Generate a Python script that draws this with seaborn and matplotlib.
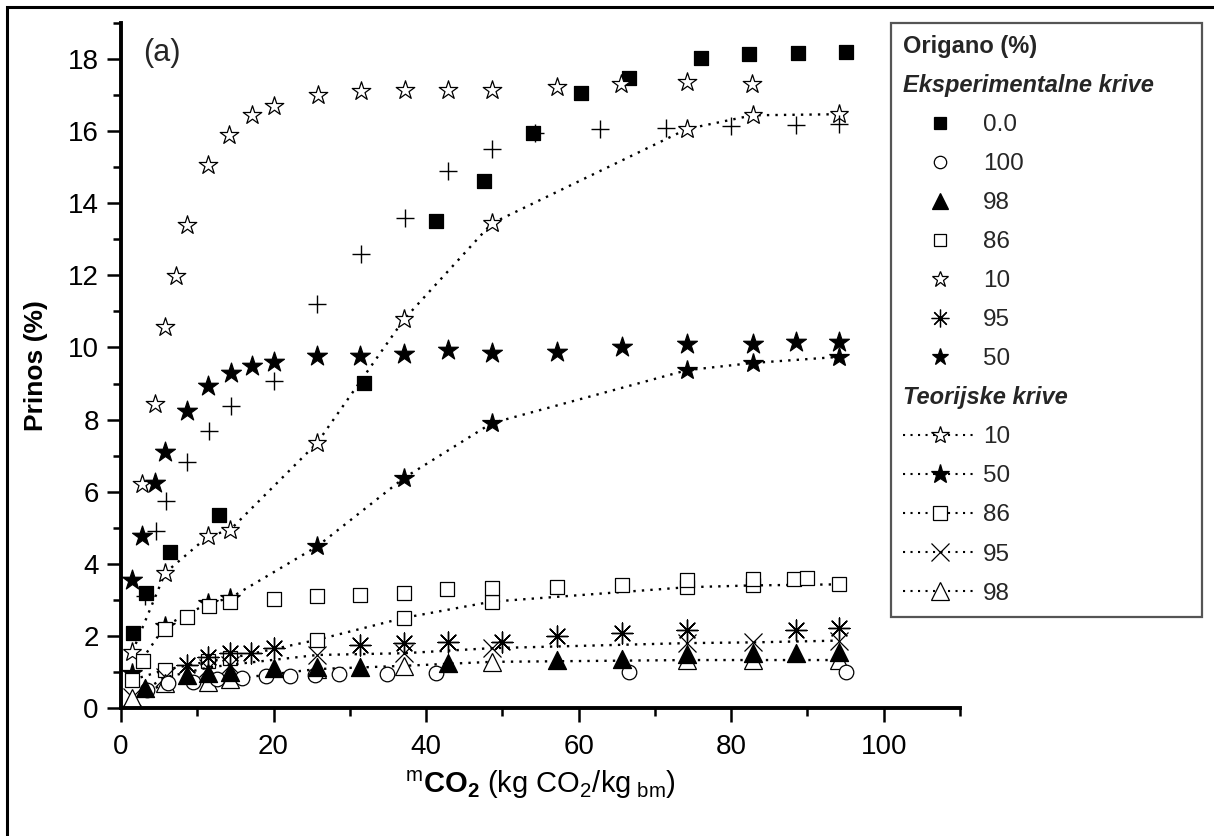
import matplotlib
matplotlib.use("Agg")
import numpy as np
import pandas as pd
import seaborn as sns
import matplotlib.pyplot as plt
from matplotlib.lines import Line2D
from matplotlib.patches import Rectangle
from matplotlib.ticker import MultipleLocator

# ---------------- data ----------------
exp00_x = [1.6, 3.3, 6.4, 12.8, 31.8, 41.3, 47.6, 54.0, 60.3, 66.6, 76.1, 82.4, 88.8, 95.1]
exp00_y = [2.07, 3.2, 4.34, 5.34, 9.02, 13.5, 14.63, 15.96, 17.07, 17.48, 18.02, 18.14, 18.17, 18.2]

exp100_x = [3.4, 6.2, 9.5, 12.6, 15.8, 19.0, 22.2, 25.4, 28.6, 34.9, 41.3, 66.6, 95.1]
exp100_y = [0.5, 0.68, 0.73, 0.8, 0.84, 0.88, 0.9, 0.92, 0.94, 0.94, 0.97, 0.99, 0.99]

exp98_x = [3.1, 8.6, 11.4, 14.3, 20.0, 25.7, 31.4, 42.9, 57.1, 65.7, 74.2, 82.8, 88.5, 94.2]
exp98_y = [0.55, 0.92, 0.97, 1.0, 1.1, 1.13, 1.15, 1.26, 1.32, 1.35, 1.5, 1.53, 1.53, 1.54]

exp86_x = [2.9, 5.8, 8.6, 11.5, 14.3, 20.0, 25.7, 31.4, 37.1, 42.8, 48.6, 57.1, 65.7, 74.2, 82.8, 88.3, 89.9]
exp86_y = [1.31, 2.19, 2.52, 2.83, 2.95, 3.03, 3.12, 3.14, 3.18, 3.31, 3.32, 3.37, 3.40, 3.56, 3.58, 3.58, 3.60]

exp10_x = [2.8, 4.4, 5.8, 7.2, 8.6, 11.4, 14.2, 17.2, 20.0, 25.8, 31.5, 37.2, 42.9, 48.6, 57.1, 65.6, 74.2, 82.7]
exp10_y = [6.2, 8.42, 10.56, 11.98, 13.4, 15.06, 15.89, 16.45, 16.7, 17.0, 17.1, 17.15, 17.15, 17.15, 17.23, 17.3, 17.37, 17.3]

exp95_x = [8.6, 11.4, 14.3, 17.1, 20.0, 31.4, 37.1, 42.9, 49.9, 57.1, 65.7, 74.2, 88.5, 94.2]
exp95_y = [1.2, 1.42, 1.53, 1.52, 1.66, 1.75, 1.8, 1.84, 1.84, 2.0, 2.09, 2.17, 2.17, 2.21]

exp50_x = [1.5, 2.8, 4.4, 5.8, 8.6, 11.4, 14.4, 17.2, 20.0, 25.7, 31.4, 37.1, 42.9, 48.6, 57.1, 65.7, 74.2, 82.8, 88.5, 94.2]
exp50_y = [3.56, 4.78, 6.24, 7.09, 8.25, 8.93, 9.28, 9.48, 9.6, 9.76, 9.76, 9.81, 9.92, 9.85, 9.87, 10.0, 10.1, 10.1, 10.15, 10.16]

plus_x = [3.2, 4.6, 5.9, 8.7, 11.5, 14.4, 20.0, 25.7, 31.5, 37.2, 42.9, 48.6, 54.3, 62.8, 71.4, 80.0, 88.5, 94.2]
plus_y = [3.1, 4.9, 5.73, 6.81, 7.67, 8.37, 9.08, 11.2, 12.6, 13.6, 14.9, 15.5, 15.96, 16.07, 16.1, 16.15, 16.17, 16.2]

theo_x = [1.5, 5.8, 11.4, 14.3, 25.7, 37.1, 48.6, 74.2, 82.8, 94.2]
theo10_y = [1.56, 3.75, 4.76, 4.94, 7.35, 10.78, 13.44, 16.06, 16.44, 16.47]
theo50_y = [0.96, 2.28, 2.9, 3.05, 4.48, 6.38, 7.9, 9.37, 9.57, 9.74]
theo86_y = [0.78, 1.06, 1.29, 1.38, 1.89, 2.5, 2.95, 3.35, 3.4, 3.43]
theo95_y = [0.3, 0.85, 1.12, 1.2, 1.47, 1.52, 1.66, 1.8, 1.82, 1.87]
theo98_y = [0.27, 0.68, 0.73, 0.8, 1.08, 1.17, 1.28, 1.33, 1.33, 1.33]

exp_labels = ["0.0", "100", "98", "86", "10", "95", "50"]
theo_labels = ["10", "50", "86", "95", "98"]
legend_title = "Origano (%)"
header_exp = "Eksperimentalne krive"
header_theo = "Teorijske krive"
x_ticks = [0, 20, 40, 60, 80, 100]
y_ticks = [0, 2, 4, 6, 8, 10, 12, 14, 16, 18]

# ---------------- styling ----------------
sns.set_theme(style="ticks")
plt.rcParams["font.family"] = ["Liberation Sans", "DejaVu Sans"]
plt.rcParams["mathtext.fontset"] = "custom"
plt.rcParams["mathtext.rm"] = "Liberation Sans"
plt.rcParams["mathtext.bf"] = "Liberation Sans:bold"
plt.rcParams["mathtext.it"] = "Liberation Sans:italic"
plt.rcParams["mathtext.default"] = "regular"

W, H = 1214, 836
fig = plt.figure(figsize=(W / 100, H / 100), dpi=100)
ax = fig.add_axes([121 / W, 1 - 708 / H, (960 - 121) / W, (708 - 23) / H])

ASTER = (8, 2, 0)
dots = (0, (1.0, 2.6))

# experimental style: marker, facecolor, size(pt)
exp_series = [
    (exp00_x, exp00_y, "s", "black", 10),
    (exp100_x, exp100_y, "o", "white", 10.5),
    (exp98_x, exp98_y, "^", "black", 13),
    (exp86_x, exp86_y, "s", "white", 10),
    (exp10_x, exp10_y, "*", "white", 14),
    (exp95_x, exp95_y, ASTER, None, 15),
    (exp50_x, exp50_y, "*", "black", 15),
]
theo_series = [
    (theo10_y, "*", "white", 14),
    (theo50_y, "*", "black", 15),
    (theo86_y, "s", "white", 10),
    (theo95_y, "x", None, 13),
    (theo98_y, "^", "white", 13),
]

# theoretical curves (dotted lines with markers)
for ys, mk, fc, ms in theo_series:
    df = pd.DataFrame({"x": theo_x, "y": ys})
    kw = dict(marker=mk, markersize=ms, color="black", linestyle=dots, linewidth=1.7,
              markeredgecolor="black", markeredgewidth=0.9)
    if fc is not None:
        kw["markerfacecolor"] = fc
    sns.lineplot(data=df, x="x", y="y", ax=ax, sort=False, estimator=None, zorder=2, **kw)

# unlabeled "+" series
sns.scatterplot(x=plus_x, y=plus_y, ax=ax, marker="+", s=13 ** 2, color="black",
                linewidth=1.0, zorder=3)

# experimental points
for xs, ys, mk, fc, ms in exp_series:
    if fc is None:
        sns.scatterplot(x=xs, y=ys, ax=ax, marker=mk, s=ms ** 2, color="black",
                        linewidth=1.0, zorder=3)
    else:
        sns.scatterplot(x=xs, y=ys, ax=ax, marker=mk, s=ms ** 2, facecolor=fc,
                        edgecolor="black", linewidth=0.9, zorder=3)

# axes
ax.set_xlim(0, 110)
ax.set_ylim(0, 19)
ax.set_xticks(x_ticks)
ax.set_yticks(y_ticks)
ax.xaxis.set_minor_locator(MultipleLocator(10))
ax.yaxis.set_minor_locator(MultipleLocator(1))
sns.despine(ax=ax)
for sp in ["left", "bottom"]:
    ax.spines[sp].set_linewidth(2.8)
    ax.spines[sp].set_color("black")
ax.tick_params(which="major", length=10, width=1.8, direction="out", labelsize=20,
               color="black", labelcolor="black")
ax.tick_params(axis="x", which="major", pad=9)
ax.tick_params(axis="y", which="major", pad=6)
ax.tick_params(which="minor", length=6, width=1.8, direction="out", color="black")
ax.set_ylabel("Prinos (%)", fontsize=19, fontweight="bold", labelpad=14, color="black")
ax.set_xlabel(r"${}^{\mathregular{m}}\mathbf{CO}_{\mathbf{2}}$ (kg CO$_2$/kg$_{\ \mathrm{bm}}$)",
              fontsize=21, labelpad=6, color="black")
ax.text(0.026, 0.978, "(a)", transform=ax.transAxes, fontsize=22, va="top", ha="left")

# legend
blank = Line2D([], [], linestyle="none", marker=None)
handles = [blank]
for xs, ys, mk, fc, ms in exp_series:
    h = Line2D([], [], linestyle="none", marker=mk, markersize=ms * 0.85, color="black",
               markeredgecolor="black", markeredgewidth=0.9,
               markerfacecolor=("black" if fc is None else fc))
    handles.append(h)
handles.append(blank)
for ys, mk, fc, ms in theo_series:
    h = Line2D([], [], linestyle=dots, linewidth=1.5, marker=mk, markersize=ms * 0.95,
               color="black", markeredgecolor="black", markeredgewidth=0.9,
               markerfacecolor=("black" if fc is None else fc))
    handles.append(h)
labels = [" "] + exp_labels + [" "] + theo_labels

leg = ax.legend(handles, labels, title=legend_title, loc="upper left",
                bbox_to_anchor=(891 / W, 0, 311 / W, 1 - 23 / H),
                bbox_transform=fig.transFigure, mode="expand", borderaxespad=0,
                frameon=True, fancybox=False, framealpha=1, edgecolor="#555555",
                fontsize=17.5, title_fontproperties={"weight": "bold", "size": 17},
                alignment="left", handlelength=3.0, handletextpad=0.3,
                labelspacing=0.7, borderpad=0.5)
leg.get_frame().set_linewidth(1.6)

fig.canvas.draw()
r = fig.canvas.get_renderer()
tx0 = leg.get_title().get_window_extent(r).x0
texts = leg.get_texts()
for idx, s in [(0, header_exp), (1 + len(exp_labels), header_theo)]:
    t = texts[idx]
    yb = t.get_transform().transform(t.get_position())[1]
    fig.text(tx0 / fig.bbox.width, yb / fig.bbox.height, s, fontsize=17,
             fontweight="bold", fontstyle="italic", va="baseline", ha="left")

# figure frame (left/top edges visible)
fig.add_artist(Rectangle((7 / W, -0.05), 1.0, 1.05 - 7 / H, transform=fig.transFigure,
                         fill=False, edgecolor="black", linewidth=2.2))

fig.savefig("out.png", dpi=100)
